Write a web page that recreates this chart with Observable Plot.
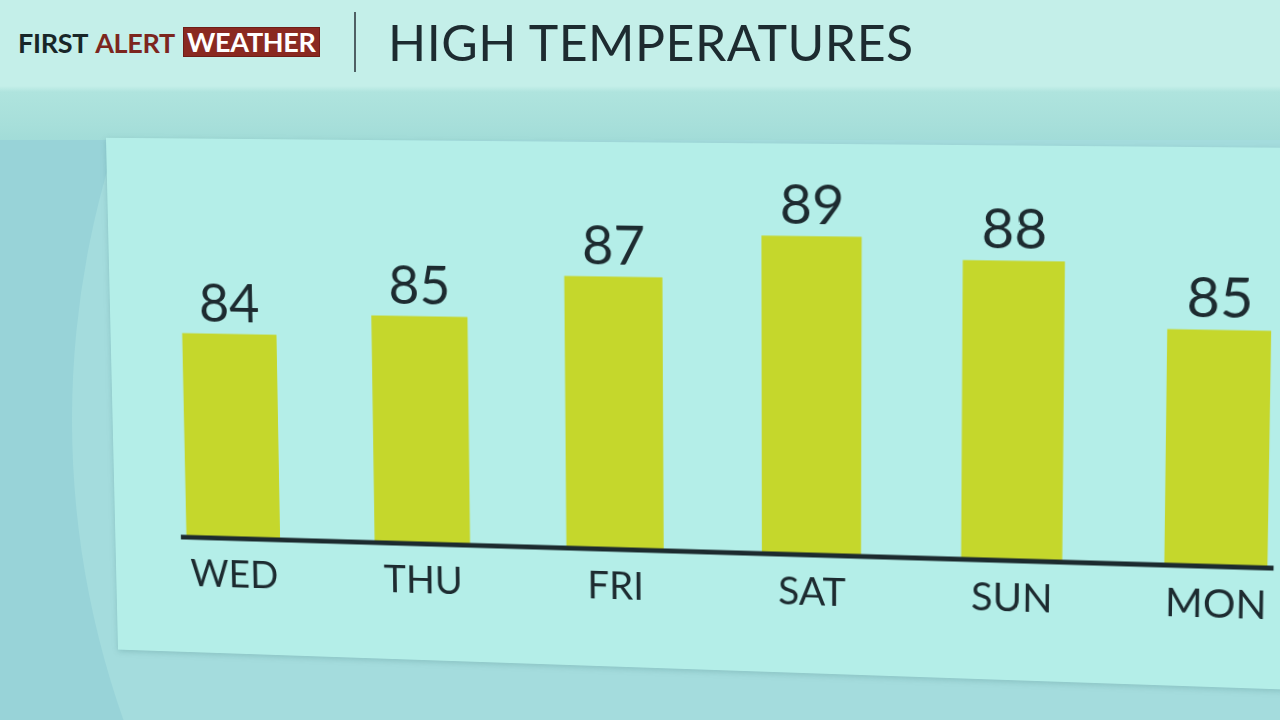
<!DOCTYPE html>
<html><head><meta charset="utf-8">
<script src="https://cdn.jsdelivr.net/npm/d3@7"></script>
<script src="https://cdn.jsdelivr.net/npm/@observablehq/plot@0.6"></script>
<style>
html,body{margin:0;padding:0;}
body{width:1280px;height:720px;overflow:hidden;background:#98d3d8;position:relative;font-family:Lato, "Open Sans", sans-serif;}
#circle{position:absolute;left:72px;top:-480px;width:1800px;height:1800px;border-radius:50%;background:#a4dcdd;}
#band{position:absolute;left:0;top:0;width:1280px;height:140px;background:linear-gradient(#c4efe9 0px,#c4efe9 86px,#afe4de 92px,#a7dfda 125px,#a2dcd8 140px);}
#stage{position:absolute;left:0;top:0;width:1280px;height:720px;transform-origin:690px -30px;transform:perspective(1500px) rotateY(-4.2deg) rotateX(-2.9deg);}
#panel{position:absolute;left:83px;top:144px;width:1400px;height:543px;background:#b4eee8;box-shadow:0 2px 6px rgba(60,120,120,0.25);}
#chart{position:absolute;left:0;top:0;}
#logo{position:absolute;left:18px;top:26px;height:32px;display:flex;align-items:center;font-weight:bold;font-size:27px;letter-spacing:-0.3px;}
#logo .first{color:#182628;}
#logo .alert{color:#7c261e;margin-left:7px;}
#logo .wx{color:#ffffff;background:#8a2921;border:1px solid #6e1d17;margin-left:8px;padding:0 3px;line-height:28px;}
#divider{position:absolute;left:354px;top:12px;width:2px;height:60px;background:#4f6064;}
#title{position:absolute;left:388px;top:14px;font-size:50px;line-height:56px;color:#1d2b30;letter-spacing:0.5px;}
</style></head>
<body>
<div id="circle"></div>
<div id="band"></div>
<div id="logo"><span class="first">FIRST</span><span class="alert">ALERT</span><span class="wx">WEATHER</span></div>
<div id="divider"></div>
<div id="title">HIGH TEMPERATURES</div>
<div id="stage"><div id="panel"></div><div id="chart"></div></div>
<script>
const days = ["WED", "THU", "FRI", "SAT", "SUN", "MON"];
const highs = [84, 85, 87, 89, 88, 85];
const yFloor = 74.2;
const yTop = 90;

const data = days.map((d, i) => ({day: d, high: highs[i]}));

const chart = Plot.plot({
  width: 1290,
  height: 663,
  marginLeft: 155,
  marginRight: 12,
  marginTop: 217,
  marginBottom: 95,
  style: {background: "transparent", fontFamily: "Lato, 'Open Sans', sans-serif", color: "#1d2b30", overflow: "visible"},
  x: {domain: days, paddingInner: 0.5, paddingOuter: 0.025, label: null},
  y: {domain: [yFloor, yTop], axis: null},
  marks: [
    Plot.barY(data, {x: "day", y1: () => yFloor, y2: "high", fill: "#c5d72c"}),
    Plot.ruleY([yFloor], {stroke: "#1c2a2e", strokeWidth: 5}),
    Plot.text(data, {x: "day", y: "high", text: d => String(d.high), dy: -13, lineAnchor: "bottom", fontSize: 56}),
    Plot.axisX({tickSize: 0, tickPadding: 24, fontSize: 40, label: null})
  ]
});
document.getElementById("chart").appendChild(chart);
</script>
</body></html>
